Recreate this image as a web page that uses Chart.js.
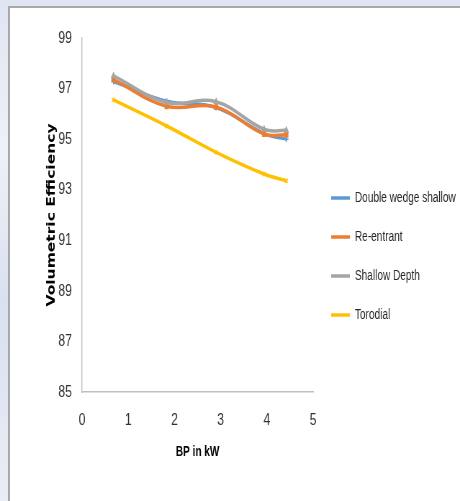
<!DOCTYPE html>
<html>
<head>
<meta charset="utf-8">
<script src="https://cdn.jsdelivr.net/npm/chart.js"></script>
<style>
  body{margin:0;padding:0;width:460px;height:501px;overflow:hidden;
    background:linear-gradient(180deg,#dfe5f2 0%,#eef1f8 30%,#d9e0ef 60%,#e9edf6 100%);}
  #frame{position:absolute;left:8px;top:6px;width:470px;height:510px;background:#fff;
    border-left:2px solid #a8a8a8;border-top:2px solid #a8a8a8;}
  /* drawn wide, then squeezed to the 460px box so the type comes out condensed */
  #canvas{position:absolute;left:0;top:0;transform:scaleX(0.71987);transform-origin:0 0;}
</style>
</head>
<body>
<div id="frame"></div>
<canvas id="canvas" width="639" height="501"></canvas>
<script>
// BP in kW for each load step
const bp = [0.68, 1.83, 2.9, 3.94, 4.42];
const doubleWedgeShallow = [97.28, 96.5, 96.25, 95.22, 95.0];
const reEntrant = [97.35, 96.3, 96.27, 95.2, 95.17];
const shallowDepth = [97.5, 96.45, 96.48, 95.39, 95.35];
const torodial = [96.55, 95.52, 94.48, 93.62, 93.35];
const xTicks = [0, 1, 2, 3, 4, 5];
const yTicks = [85, 87, 89, 91, 93, 95, 97, 99];

const sans = "'Liberation Sans',Arial,sans-serif";

let series = [
    {label:'Double wedge shallow', data:doubleWedgeShallow, color:'#5b9bd5', marker:'cross', order:4},
    {label:'Re-entrant', data:reEntrant, color:'#ed7d31', marker:'rect', order:3},
    {label:'Shallow Depth', data:shallowDepth, color:'#a5a5a5', marker:'triangle', order:2},
    {label:'Torodial', data:torodial, color:'#ffc000', marker:'crossRot', order:1},
];

let datasets = series.map(s=>({
    label:s.label,
    data:s.data.map((v,i)=>({x:bp[i], y:v})),
    borderColor:s.color,
    backgroundColor:s.color,
    borderWidth:3.5,
    tension:0.4,
    pointStyle:s.marker,
    pointRadius:3,
    pointBorderWidth:1.5,
    order:s.order,
    fill:false
}));

const chart = new Chart(document.getElementById('canvas').getContext('2d'), {
    type:'line',
    data:{datasets:datasets},
    options:{
        responsive:false,
        animation:false,
        layout:{padding:{left:0, top:38, right:0, bottom:26}},
        plugins:{
            tooltip:{enabled:false},
            legend:{
                position:'right',
                maxWidth:204,
                labels:{
                    usePointStyle:true,
                    pointStyleWidth:26,
                    padding:25,
                    color:'#262626',
                    font:{family:sans, size:14},
                    generateLabels:(c)=>Chart.defaults.plugins.legend.labels.generateLabels(c)
                        .map(l=>Object.assign(l,{pointStyle:'line', lineWidth:3.5}))
                        .sort((a,b)=>a.datasetIndex-b.datasetIndex)
                }
            }
        },
        scales:{
            x:{
                type:'linear', min:0, max:5,
                afterBuildTicks:(s)=>{ s.ticks = xTicks.map(v=>({value:v})); },
                afterFit:(s)=>{ s.height = 83; },
                grid:{display:true, drawOnChartArea:false, drawTicks:false},
                border:{display:true, color:'#bfbfbf', width:1.4},
                ticks:{padding:18, color:'#333', font:{family:sans, size:17}},
                title:{display:true, text:'BP in kW', color:'#000', padding:{top:0, bottom:14.6},
                    font:{family:sans, size:14, weight:'bold'}}
            },
            y:{
                min:85, max:99,
                afterBuildTicks:(s)=>{ s.ticks = yTicks.map(v=>({value:v})); },
                afterFit:(s)=>{ s.width = 114; },
                grid:{display:true, drawOnChartArea:false, drawTicks:false},
                border:{display:true, color:'#bfbfbf', width:1.4},
                ticks:{padding:14, color:'#333', font:{family:sans, size:17}},
                title:{display:true, text:'Volumetric Efficiency', color:'#000', padding:{top:63, bottom:0},
                    font:{family:"'DejaVu Sans',Verdana,sans-serif", size:15.5, weight:'bold'}}
            }
        }
    }
});
</script>
</body>
</html>
